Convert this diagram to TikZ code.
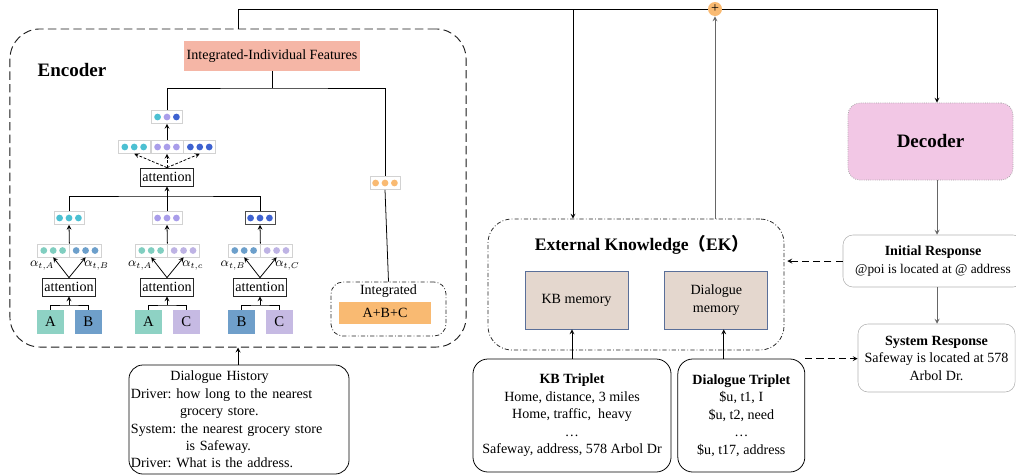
\documentclass[tikz,border=0pt]{standalone}
\usepackage{fontspec}
\setmainfont{Liberation Serif}
\newfontfamily\cjk{Noto Sans CJK SC}
\usepackage{amsmath}
\usepackage{xcolor}
\usetikzlibrary{positioning,calc}
\frenchspacing

\definecolor{salmon}{HTML}{F5B6A6}
\definecolor{dotteal}{HTML}{4CC0D2}
\definecolor{dotlav}{HTML}{A99DEA}
\definecolor{dotblue}{HTML}{3E62D0}
\definecolor{pteal}{HTML}{80CEC0}
\definecolor{pblue}{HTML}{6C9FCB}
\definecolor{plav}{HTML}{BEB3E4}
\definecolor{inA}{HTML}{8ED2C4}
\definecolor{inB}{HTML}{6F9FCA}
\definecolor{inC}{HTML}{C6BAE3}
\definecolor{orng}{HTML}{F9BA72}
\definecolor{memfill}{HTML}{E4D7CE}
\definecolor{memline}{HTML}{5A6F99}
\definecolor{decpink}{HTML}{F2C7E5}

\newcommand{\tridots}[4]{%
  \fill[#2] ([xshift=-0.235cm]#1.center) circle (2.4pt);
  \fill[#3] (#1.center) circle (2.4pt);
  \fill[#4] ([xshift=0.235cm]#1.center) circle (2.4pt);}

\tikzset{
  vec/.style={draw=gray!35, fill=white, minimum width=0.79cm, minimum height=0.32cm, inner sep=0pt},
  attn/.style={draw=black!85, inner xsep=1.5pt, inner ysep=1pt, minimum height=0.45cm},
  inbox/.style={minimum width=0.675cm, minimum height=0.6cm, inner sep=0pt, font=\fontsize{10.5}{12}\selectfont},
  dashdot/.style={draw=black!85, dash pattern=on 3pt off 1.5pt on 0.6pt off 1.5pt},
  mem/.style={fill=memfill, draw=memline, minimum width=2.575cm, minimum height=1.45cm, align=center},
  trip/.style={draw, rounded corners=0.375cm, minimum height=2.825cm, align=center},
  resp/.style={draw=gray!60, line width=0.4pt, rounded corners=0.25cm, align=center},
}

\begin{document}
\begin{tikzpicture}[->,>=stealth,auto,x=0.025cm,y=-0.025cm,line width=0.55pt,
                    font=\fontsize{10}{12.4}\selectfont]
  \useasboundingbox (0,0) rectangle (1016,475);

  % encoder
  \node [draw=black!90, line width=0.65pt, dash pattern=on 6pt off 3pt, rounded corners=0.75cm, minimum width=11.4cm, minimum height=7.95cm](0) at (238,188) {};
  \node [font=\fontsize{13.5}{15}\selectfont\bfseries](1) at (72,70) {Encoder};
  \node [fill=salmon, minimum width=4.4cm, minimum height=0.725cm, inner xsep=1pt](2) at (272,56) {Integrated-Individual Features};

  \node [vec, minimum width=0.775cm](3) at (167,117) {};
  \node [vec, minimum width=0.8cm](5) at (167,147) {};
  \node [vec, minimum width=0.8cm](4) [left=0cm of 5] {};
  \node [vec, minimum width=0.8cm](6) [right=0cm of 5] {};
  \node [attn](7) at (167,177) {attention};

  \node [vec, minimum width=0.75cm](8) at (69,218) {};
  \node [vec, minimum width=0.75cm](9) at (167,218) {};
  \node [vec, minimum width=0.75cm, draw=black!70](10) at (260,218) {};

  \node [vec](11) at (53.2,250.5) {};
  \node [vec](12) [right=0cm of 11] {};
  \node [vec](13) at (151.2,250.5) {};
  \node [vec](14) [right=0cm of 13] {};
  \node [vec](15) at (244.2,250.5) {};
  \node [vec](16) [right=0cm of 15] {};

  \node [attn](17) at (69,287) {attention};
  \node [attn](18) at (167,287) {attention};
  \node [attn](19) at (260,287) {attention};

  \node [inbox, fill=inA](20) at (50.5,322) {A};
  \node [inbox, fill=inB](21) [right=0.25cm of 20] {B};
  \node [inbox, fill=inA](22) at (148.5,322) {A};
  \node [inbox, fill=inC](23) [right=0.25cm of 22] {C};
  \node [inbox, fill=inB](24) at (241.5,322) {B};
  \node [inbox, fill=inC](25) [right=0.25cm of 24] {C};

  \node [vec, minimum width=0.75cm](26) at (385,183) {};
  \node [dashdot, rounded corners=0.3cm, minimum width=2.875cm, minimum height=1.35cm](27) at (388.5,309) {};
  \node [anchor=north, inner sep=2pt](27t) at (27.north) {Integrated};
  \node [fill=orng, minimum width=2.3cm, minimum height=0.55cm](28) at (385,313) {A+B+C};

  % dots
  \tridots{3}{dotteal}{dotlav}{dotblue}
  \tridots{4}{dotteal}{dotteal}{dotteal}
  \tridots{5}{dotlav}{dotlav}{dotlav}
  \tridots{6}{dotblue}{dotblue}{dotblue}
  \tridots{8}{dotteal}{dotteal}{dotteal}
  \tridots{9}{dotlav}{dotlav}{dotlav}
  \tridots{10}{dotblue}{dotblue}{dotblue}
  \tridots{11}{pteal}{pteal}{pteal}
  \tridots{12}{pblue}{pblue}{pblue}
  \tridots{13}{pteal}{pteal}{pteal}
  \tridots{14}{plav}{plav}{plav}
  \tridots{15}{pblue}{pblue}{pblue}
  \tridots{16}{plav}{plav}{plav}
  \tridots{26}{orng}{orng}{orng}

  % dialogue history
  \node [draw, rounded corners=0.35cm, text width=5.4cm, inner xsep=0.05cm, minimum height=2.725cm, align=left](29) at (239,419.5)
    {\hspace*{28pt}Dialogue History\\Driver: how long to the nearest\\\hspace*{35pt}grocery store.\\System: the nearest grocery store\\\hspace*{39pt}is Safeway.\\Driver: What is the address.};

  % external knowledge
  \node [dashdot, rounded corners=0.6cm, minimum width=7.4cm, minimum height=3.275cm](30) at (636,284.5) {};
  \node [font=\fontsize{12.5}{15}\selectfont\bfseries](30t) at (642,245) {External Knowledge{\cjk （}EK{\cjk ）}};
  \node [mem](31) at (576.5,300) {KB memory};
  \node [mem](32) [right=0.9cm of 31] {Dialogue\\memory};

  \node [trip, minimum width=4.95cm](33) at (572,415.5) {\textbf{KB Triplet}\\Home, distance, 3 miles\\Home, traffic,\ \ heavy\\\dots\\Safeway, address, 578 Arbol Dr};
  \node [trip, minimum width=3.175cm](34) [right=0.15cm of 33] {\textbf{Dialogue Triplet}\\\$u, t1, I\\\$u, t2, need\\\dots\\\$u, t17, address};

  % decoder side
  \node [fill=decpink, draw=gray!70, densely dotted, rounded corners=0.3cm, minimum width=4.125cm, minimum height=1.925cm, font=\fontsize{13.5}{15}\selectfont\bfseries](36) at (930.5,141.5) {Decoder};
  \node [resp, minimum width=4.5cm, minimum height=1.3cm](37) at (933,261) {\textbf{Initial Response}\\{\fontsize{9.5}{12}\selectfont @poi is located at @ address}};
  \node [resp, minimum width=3.925cm, minimum height=1.7cm](38) at (936.5,358) {\textbf{System Response}\\Safeway is located at 578\\Arbol Dr.};

  \coordinate (t1) at (238,9);
  \coordinate (t2) at (937,9);
  \coordinate (t3) at (573,9);
  \coordinate (m) at (272,88);
  \coordinate (k) at (167,196);
  \coordinate (j1) at (69,305);
  \coordinate (j2) at (167,305);
  \coordinate (j3) at (260,305);
  \coordinate (d1) at ([xshift=-0.44cm]34.north);

  \draw[-] (0.north) -- (t1) -- (t2);
  \draw (t2) -- (t2 |- 36.north);
  \draw (t3) -- (t3 |- 30.north);
  \node [circle, fill=orng, minimum size=0.35cm, inner sep=0pt, font=\fontsize{10}{10}\selectfont](35) at (715,9) {+};
  \draw[gray!80!black] (35 |- 30.north) -- (35.south);

  \draw[-] (2.south) -- (m);
  \draw[-] (3.north) |- (m) -| (26.north);
  \draw[-] (26.south) -- (27.north);
  \draw (5.north) -- (3.south);
  \path[dash pattern=on 2pt off 1.2pt]
    (7.north) edge (4.south)
    (7.north) edge (5.south)
    (7.north) edge (6.south);
  \draw[-] (8.north) |- (k) -| (10.north);
  \draw[-] (9.north) -- (k);
  \draw (k) -- (7.south);
  \draw (11.north east) -- (8.south);
  \draw (13.north east) -- (9.south);
  \draw (15.north east) -- (10.south);

  \path[every node/.style={font=\fontsize{9}{10}\selectfont, inner sep=1pt}]
    (17.north) edge node[left, pos=0.6, xshift=-2.5pt]{$\alpha_{t,A}$} (11.south)
    (17.north) edge node[right, pos=0.6, xshift=2.5pt]{$\alpha_{t,B}$} (12.south)
    (18.north) edge node[left, pos=0.6, xshift=-2.5pt]{$\alpha_{t,A}$} (13.south)
    (18.north) edge node[right, pos=0.6, xshift=2.5pt]{$\alpha_{t,c}$} (14.south)
    (19.north) edge node[left, pos=0.6, xshift=-2.5pt]{$\alpha_{t,B}$} (15.south)
    (19.north) edge node[right, pos=0.6, xshift=2.5pt]{$\alpha_{t,C}$} (16.south);

  \draw[-] (20.north) |- (j1) -| (21.north);
  \draw[-] (22.north) |- (j2) -| (23.north);
  \draw[-] (24.north) |- (j3) -| (25.north);
  \draw (j1) -- (17.south);
  \draw (j2) -- (18.south);
  \draw (j3) -- (19.south);

  \draw (0.south |- 29.north) -- (0.south);
  \draw (33.north) -- (33.north |- 31.south);
  \draw (d1) -- (d1 |- 32.south);
  \draw[gray!80!black] (t2 |- 36.south) -- (t2 |- 37.north);
  \draw[gray!80!black] (t2 |- 37.south) -- (t2 |- 38.north);
  \draw[dash pattern=on 5pt off 3pt, shorten >=2pt] (37.west) -- (37.west -| 30.east);
  \draw[dash pattern=on 5pt off 3pt] (34.north east) -- (34.north east -| 38.west);
\end{tikzpicture}
\end{document}
